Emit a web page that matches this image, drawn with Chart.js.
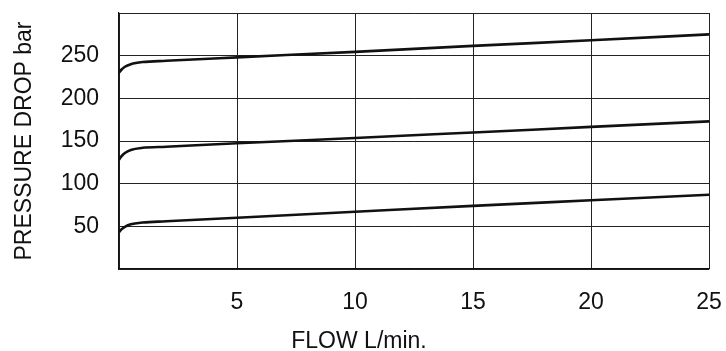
<!DOCTYPE html>
<html lang="en">
<head>
  <meta charset="utf-8">
  <title>Pressure drop vs flow</title>
  <script src="https://cdn.jsdelivr.net/npm/chart.js"></script>
  <style>
    html, body { margin: 0; padding: 0; background: #fff; }
    #wrap { width: 726px; height: 351px; }
  </style>
</head>
<body>
  <div id="wrap"><canvas id="myChart"></canvas></div>

<script>
  // data
  var flow = [0, 0.1, 0.25, 0.5, 1, 2, 5, 10, 15, 20, 25];
  var dropHigh = [230, 233.5, 237, 240, 242.5, 244, 248, 254.5, 261.5, 268, 275];
  var dropMid  = [128, 132, 136, 139.5, 142, 143.3, 147.3, 153.5, 160, 166.5, 173];
  var dropLow  = [43, 46.5, 49.5, 52.5, 54.5, 55.9, 60, 67, 74, 80.5, 87];
  var xTicks = [5, 10, 15, 20, 25];
  var yTicks = [50, 100, 150, 200, 250];

  var FONT = '"Liberation Sans", Arial, Helvetica, sans-serif';

  function toPoints(ys) {
    return flow.map(function (f, i) { return { x: f, y: ys[i] }; });
  }

  function curve(ys) {
    return {
      data: toPoints(ys),
      borderColor: '#111',
      borderWidth: 2.6,
      pointRadius: 0,
      fill: false,
      cubicInterpolationMode: 'monotone'
    };
  }

  // x axis title sits left of the plot centre in the original
  var flowTitle = {
    id: 'flowTitle',
    afterDraw: function (chart) {
      var ctx = chart.ctx;
      ctx.save();
      ctx.font = '23px ' + FONT;
      ctx.fillStyle = '#111';
      ctx.textAlign = 'center';
      ctx.textBaseline = 'middle';
      ctx.fillText('FLOW L/min.', chart.chartArea.left + 240, 342);
      ctx.restore();
    }
  };

  var ctx = document.getElementById('myChart').getContext('2d');
  var myChart = new Chart(ctx, {
    type: 'line',
    data: {
      datasets: [curve(dropHigh), curve(dropMid), curve(dropLow)]
    },
    options: {
      responsive: true,
      maintainAspectRatio: false,
      animation: false,
      layout: { padding: { left: 0, right: 17, top: 13, bottom: 0 } },
      plugins: {
        legend: { display: false },
        tooltip: { enabled: false }
      },
      scales: {
        x: {
          type: 'linear',
          min: 0,
          max: 25,
          border: { color: '#111', width: 1.2 },
          grid: { color: '#222', lineWidth: 1, drawTicks: false },
          afterBuildTicks: function (scale) {
            scale.ticks = [0].concat(xTicks).map(function (v) { return { value: v }; });
          },
          afterFit: function (scale) {
            scale.height = 351 - 269;
            scale.paddingLeft = 0;
            scale.paddingRight = 0;
          },
          ticks: {
            padding: 20,
            color: '#111',
            font: { family: FONT, size: 23 },
            maxRotation: 0,
            callback: function (v) { return v === 0 ? '' : v; }
          }
        },
        y: {
          min: 0,
          max: 300,
          border: { color: '#111', width: 1.2 },
          grid: { color: '#222', lineWidth: 1, drawTicks: false },
          afterBuildTicks: function (scale) {
            scale.ticks = [0].concat(yTicks, [300]).map(function (v) { return { value: v }; });
          },
          afterFit: function (scale) {
            scale.width = 119;
            scale.paddingTop = 0;
            scale.paddingBottom = 0;
          },
          title: {
            display: true,
            text: 'PRESSURE DROP bar',
            color: '#111',
            font: { family: FONT, size: 23 },
            padding: { top: 11, bottom: 0 }
          },
          ticks: {
            padding: 20,
            color: '#111',
            font: { family: FONT, size: 23 },
            callback: function (v) { return (v === 0 || v === 300) ? '' : v; }
          }
        }
      }
    },
    plugins: [flowTitle]
  });
</script>
</body>
</html>
